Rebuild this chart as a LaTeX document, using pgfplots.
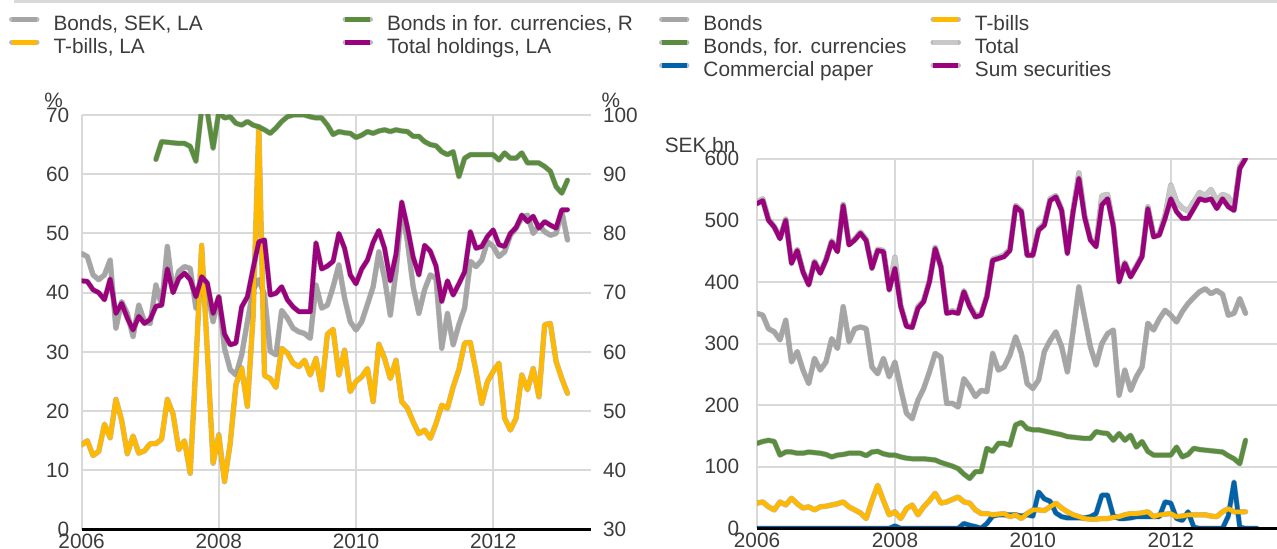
\documentclass[border=0pt]{standalone}
\usepackage{fontspec}
\setmainfont{Liberation Sans}
\usepackage{pgfplots}
\pgfplotsset{compat=1.18}
\usepackage{pgfplotstable}

\definecolor{cBond}{RGB}{165,165,165}
\definecolor{cGreen}{RGB}{91,141,63}
\definecolor{cYellow}{RGB}{255,185,0}
\definecolor{cPurple}{RGB}{155,0,125}
\definecolor{cBlue}{RGB}{0,98,168}
\definecolor{cTotal}{RGB}{200,200,200}
\definecolor{cGrid}{RGB}{217,217,217}
\definecolor{cText}{RGB}{60,60,60}

% Left panel, % of holdings (LA), monthly, m = months since Jan 2006
\pgfplotstableread{
m bonds tbills total
0 46.6 14.3 42
1 46.1 15.0 41.9
2 43 12.5 40.5
3 42.2 13.2 40
4 43 17.8 38.8
5 45.5 15.5 42.3
6 34 22.0 36.5
7 38.5 18.5 38.2
8 36.5 12.8 35.7
9 32.6 15.8 33.7
10 37.9 12.9 36
11 35.1 13.3 34.8
12 34.8 14.5 35.5
13 41.3 14.5 37.7
14 37.9 15.3 37.9
15 47.8 22.0 44
16 40.2 19.5 40
17 43.6 13.5 42.4
18 44.4 15 43.3
19 44.1 9.5 42.2
20 37.4 28 39.3
21 41.3 48 42.7
22 40.2 30 41.6
23 35.1 11.2 36.5
24 39.3 16 39.3
25 30.6 8.1 33
26 27 14.6 31.2
27 26.1 24.5 31.5
28 29.5 27.3 37.6
29 35.1 20.8 39.3
30 40.5 36 44.1
31 42.2 68 48.6
32 39.6 26 48.9
33 30.1 25.5 39.6
34 29.5 24 39.9
35 37 30.6 41
36 35.7 29.8 38.8
37 34 28.1 37.6
38 33.4 27.5 36.8
39 33.1 28.6 36.8
40 32.3 26.1 36.8
41 41.3 28.9 48.4
42 37.4 23.6 44
43 37.9 33 44.5
44 41 33.8 45.3
45 44.7 26.1 50
46 39.1 30.3 47.5
47 35.1 23.3 43
48 33.7 25 41.5
49 35.1 25.8 44
50 38 27.2 45.5
51 41 21.6 48.5
52 46.9 31.3 50.5
53 42.4 28.9 47.5
54 36.2 25.5 42
55 43.6 28.6 46.5
56 54.5 21.6 55.3
57 48.6 20.5 51
58 41 18.2 46
59 36.5 16.2 43
60 40.5 16.8 48
61 43 15.4 47
62 42.4 17.9 44.5
63 30.6 21 38.5
64 36.5 20.5 42
65 31.2 24.1 39.6
66 34.6 27 41.5
67 37.4 31.5 43.5
68 45.3 31.6 50.3
69 44.4 26.7 47.5
70 45.5 21.3 47.8
71 48.6 25 49.5
72 47.8 26.7 50.6
73 46.1 28.1 48.1
74 46.9 18.8 47.8
75 49.7 16.8 50
76 50.9 18.8 51
77 52.6 26.1 53.1
78 53.1 23.6 52
79 50 27.2 52.9
80 51.4 22.4 50.9
81 50.3 34.6 52
82 49.7 34.8 51.4
83 50 28.4 50.9
84 53.7 25.5 54
85 48.9 23 54
}\leftdata

% Bonds in foreign currencies, % (right axis)
\pgfplotstableread{
m green
13 92.5
14 95.5
15 95.4
16 95.3
17 95.2
18 95.2
19 94.7
20 92.2
21 101
22 100.5
23 94.4
24 100.5
25 99.5
26 99.7
27 98.6
28 98.3
29 98.9
30 98.3
31 98
32 97.5
33 96.9
34 97.8
35 98.9
36 99.7
37 100
38 100
39 100
40 99.7
41 99.5
42 99.5
43 98.3
44 96.7
45 97.2
46 97
47 96.9
48 96.2
49 96.6
50 97.2
51 96.9
52 97.3
53 97.5
54 97.2
55 97.5
56 97.3
57 97.2
58 96.4
59 96.4
60 95.5
61 95
62 94.8
63 93.8
64 93.3
65 93.8
66 89.6
67 92.7
68 93.3
69 93.3
70 93.3
71 93.3
72 93.3
73 92.4
74 93.6
75 92.7
76 92.7
77 93.6
78 91.9
79 91.9
80 91.9
81 91.3
82 90.5
83 87.9
84 86.8
85 89
}\greendata

% Right panel, SEK bn
\pgfplotstableread{
m bonds green tbills total sum
0 349 138 41 530 527
1 346 141 43 535 532
2 324 143 35 502 500
3 319 141 30 490 489
4 306 119 43 472 470
5 338 124 38 502 500
6 270 124 49 432 430
7 287 122 40 453 451
8 257 122 33 418 416
9 235 124 35 397 395
10 276 123 30 434 432
11 257 122 35 416 414
12 270 120 36 437 435
13 308 116 38 467 465
14 292 119 40 451 449
15 360 120 43 526 524
16 303 122 35 462 460
17 324 122 30 470 468
18 327 122 25 481 479
19 324 118 16 469 467
20 262 124 45 424 422
21 251 125 70 453 451
22 276 121 45 451 449
23 246 119 22 389 387
24 270 119 27 440 422
25 227 116 16 362 360
26 187 114 32 330 328
27 178 113 38 328 326
28 208 113 22 360 357
29 227 113 35 370 368
30 254 112 45 402 400
31 284 111 57 456 454
32 278 107 41 426 424
33 203 104 43 351 349
34 203 101 47 353 351
35 197 97 51 351 349
36 243 88 43 386 384
37 230 81 41 362 360
38 214 92 30 346 343
39 224 92 24 348 346
40 222 130 24 378 376
41 284 125 22 437 435
42 257 138 23 440 438
43 262 138 24 444 441
44 281 135 19 453 451
45 311 168 22 524 522
46 284 172 16 516 514
47 235 162 24 445 443
48 227 160 30 446 443
49 241 160 30 486 484
50 287 158 29 495 492
51 305 156 35 535 532
52 319 154 41 540 538
53 295 152 33 518 516
54 254 149 27 448 446
55 320 148 22 516 514
56 392 147 19 577 568
57 343 146 16 508 505
58 295 146 15 470 468
59 265 157 15 460 457
60 300 155 16 540 525
61 316 154 16 542 535
62 322 143 18 492 490
63 216 154 19 403 400
64 257 143 22 432 430
65 224 151 24 410 408
66 246 132 24 426 424
67 262 141 25 443 441
68 333 125 27 522 519
69 322 119 19 476 473
70 340 119 22 478 476
71 354 119 23 508 503
72 346 119 24 557 535
73 335 132 19 530 514
74 352 116 20 520 503
75 365 120 22 515 503
76 375 130 22 530 519
77 384 128 22 545 535
78 389 127 22 540 532
79 381 126 20 550 535
80 386 125 19 532 519
81 380 124 27 542 535
82 346 118 32 538 522
83 349 113 27 520 516
84 373 105 27 588 584
85 349 143 27 602 600
}\rightdata

\pgfplotstableread{
m cp
0 0
6 0
12 0
18 0
23 0
24 4
25 0
30 0
35 0
36 8
37 5
38 3
39 0
40 8
41 20
42 22
43 22
44 22
45 22
46 20
47 22
48 20
49 59
50 48
51 44
52 25
53 19
54 17
55 17
56 17
57 17
58 19
59 24
60 54
61 54
62 20
63 16
64 16
65 17
66 19
67 19
68 19
69 19
70 19
71 43
72 41
73 16
74 13
75 27
76 2
77 0
78 0
79 0
80 0
81 0
82 20
83 75
84 2
85 0
86 0
87 0
}\cpdata

\pgfplotsset{
  ser/.style={line width=2.25pt, line join=round, line cap=round,
    preaction={draw=black!55, line width=2.75pt, opacity=0.5}},
  legend image code/.code={\draw[#1, line cap=butt] (0pt,0.36em) -- (12.5pt,0.36em);},
  panel/.style={
    scale only axis, anchor=south west,
    axis line style={draw=none}, tick style={draw=none},
    grid=major, grid style={cGrid, line width=1pt},
    clip mode=individual,
    /pgf/number format/assume math mode=true,
    /pgf/number format/1000 sep={},
    tick label style={font=\fontsize{10.4}{12}\selectfont, text=cText},
    label style={font=\fontsize{10.4}{12}\selectfont, text=cText},
    xtick={2006,2008,2010,2012},
    xticklabel style={anchor=north, inner sep=0pt, yshift=-1.9pt},
    legend cell align=left,
    legend style={draw=none, fill=none, inner sep=0pt, outer sep=0pt,
      anchor=north west, legend columns=2, row sep=0pt, column sep=0pt,
      nodes={inner sep=0pt, text height=7.6pt, text depth=3.9pt,
        font=\fontsize{10.4}{12}\selectfont, text=cText},
      /tikz/every odd column/.style={column sep=7pt}},
  },
}

\begin{document}
\begin{tikzpicture}
\path[use as bounding box] (0,0) rectangle (638.5pt,274.5pt);
\fill[cGrid] (7pt,272.8pt) rectangle (638.5pt,274.5pt);

% ---------- left panel, left axis ----------
\begin{axis}[panel,
  at={(40.8pt,9.7pt)}, width=254.5pt, height=207.3pt,
  xmin=2006, xmax=2013.42, ymin=0, ymax=70, ytick={0,10,...,70},
  yticklabel style={anchor=east, inner sep=0pt, xshift=-6pt},
  ylabel={\%}, ylabel style={rotate=-90, anchor=center, at={(axis description cs:-0.055,1.036)}},
  legend style={at={(axis description cs:-0.1426,1.2412)}},
]
\addlegendimage{ser, cBond}
\addlegendentry{\makebox[144.5pt][l]{Bonds, SEK, LA}}
\addlegendimage{ser, cGreen}
\addlegendentry{Bonds in for. currencies, R}
\addlegendimage{ser, cYellow}
\addlegendentry{\makebox[144.5pt][l]{T-bills, LA}}
\addlegendimage{ser, cPurple}
\addlegendentry{Total holdings, LA}
\addplot[ser, cBond, forget plot] table[x expr=2006+\thisrow{m}/12, y=bonds] {\leftdata};
\addplot[ser, cYellow, forget plot] table[x expr=2006+\thisrow{m}/12, y=tbills] {\leftdata};
\addplot[ser, cPurple, forget plot] table[x expr=2006+\thisrow{m}/12, y=total] {\leftdata};
\draw[black, line width=1.3pt] (rel axis cs:0,0) -- (rel axis cs:1,0);
\end{axis}

% ---------- left panel, right axis ----------
\begin{axis}[panel,
  at={(40.8pt,9.7pt)}, width=254.5pt, height=207.3pt,
  xmin=2006, xmax=2013.42, ymin=30, ymax=100, ytick={30,40,...,100},
  axis x line=none, axis y line*=right, grid=none,
  yticklabel style={anchor=west, inner sep=0pt, xshift=6pt},
  ylabel={\%}, ylabel style={rotate=-90, anchor=center, at={(axis description cs:1.040,1.036)}},
]
\addplot[ser, cGreen] table[x expr=2006+\thisrow{m}/12, y=green] {\greendata};
\end{axis}

% ---------- right panel ----------
\begin{axis}[panel,
  at={(378.5pt,10.3pt)}, width=260pt, height=184.85pt,
  xmin=2006, xmax=2013.54, ymin=0, ymax=600, ytick={0,100,...,600},
  yticklabel style={anchor=east, inner sep=0pt, xshift=-8.7pt},
  ylabel={SEK bn}, ylabel style={rotate=-90, anchor=east, at={(axis description cs:-0.028,1.037)}},
  legend style={at={(axis description cs:-0.1885,1.3887)}},
]
\addlegendimage{ser, cBond}
\addlegendentry{\makebox[113.5pt][l]{Bonds}}
\addlegendimage{ser, cYellow}
\addlegendentry{T-bills}
\addlegendimage{ser, cGreen}
\addlegendentry{\makebox[113.5pt][l]{Bonds, for. currencies}}
\addlegendimage{ser, cTotal}
\addlegendentry{Total}
\addlegendimage{ser, cBlue}
\addlegendentry{\makebox[113.5pt][l]{Commercial paper}}
\addlegendimage{ser, cPurple}
\addlegendentry{Sum securities}
\addplot[ser, cTotal, forget plot] table[x expr=2006+\thisrow{m}/12, y=total] {\rightdata};
\addplot[ser, cPurple, forget plot] table[x expr=2006+\thisrow{m}/12, y=sum] {\rightdata};
\addplot[ser, cBond, forget plot] table[x expr=2006+\thisrow{m}/12, y=bonds] {\rightdata};
\addplot[ser, cGreen, forget plot] table[x expr=2006+\thisrow{m}/12, y=green] {\rightdata};
\addplot[ser, cBlue, forget plot] table[x expr=2006+\thisrow{m}/12, y=cp] {\cpdata};
\addplot[ser, cYellow, forget plot] table[x expr=2006+\thisrow{m}/12, y=tbills] {\rightdata};
\draw[black, line width=1.3pt] (rel axis cs:0,0) -- (rel axis cs:1,0);
\end{axis}
\end{tikzpicture}
\end{document}
